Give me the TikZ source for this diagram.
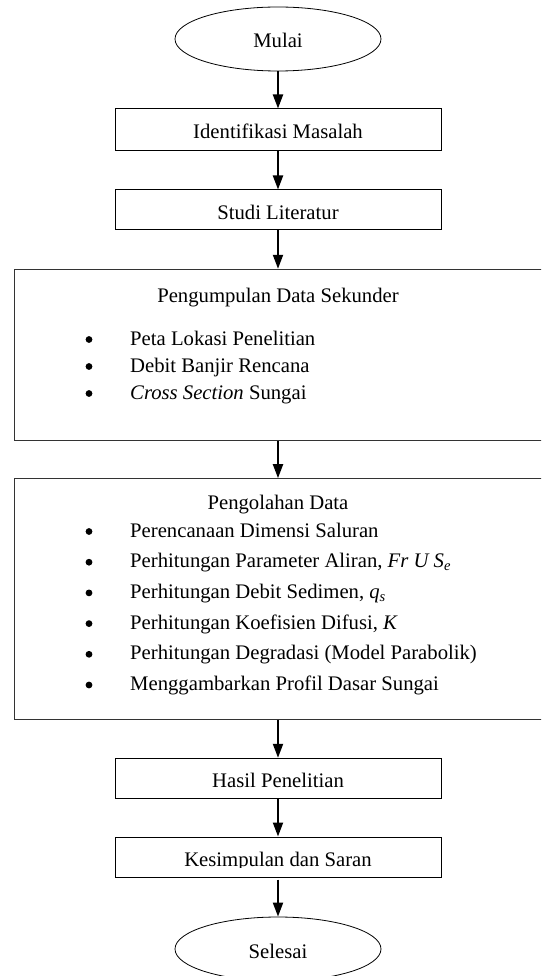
\documentclass[tikz,border=0pt]{standalone}
\usepackage{fontspec}
\setmainfont{Liberation Serif}
\usetikzlibrary{shapes.geometric,arrows.meta}
\begin{document}
\begin{tikzpicture}[x=1pt,y=-1pt,
  every node/.style={font=\fontsize{20.7}{24}\selectfont, inner sep=0pt},
  term/.style={ellipse, draw, line width=0.8pt, minimum width=206pt, minimum height=64pt, text height=18pt, text depth=0pt},
  smallbox/.style={rectangle, draw, line width=1pt, minimum width=326pt, text height=18pt, text depth=0pt},
  bigbox/.style={rectangle, draw=black!80, line width=1.1pt, minimum width=545.3pt},
  arr/.style={line width=2pt, -{Triangle[length=14pt,width=10pt]}},
  bul/.style={circle, fill=black, minimum size=6.8pt},
  itm/.style={anchor=base west},
  ttl/.style={anchor=base}]
\useasboundingbox (0,0) rectangle (541,976);
\clip (0,0) rectangle (541,976);
% terminals and small boxes
\node[term] (mulai) at (278,39) {Mulai};
\node[smallbox, minimum height=42pt] (ident) at (278,130) {Identifikasi Masalah};
\node[smallbox, minimum height=40pt] (studi) at (278,210) {Studi Literatur};
% big boxes
\node[bigbox, minimum height=171.4pt] (kumpul) at (287.35,355) {};
\node[bigbox, minimum height=240.6pt] (olah) at (287.35,599) {};
\node[smallbox, minimum height=40.4pt] (hasil) at (278,778.5) {Hasil Penelitian};
\node[smallbox, minimum height=40pt] (kes) at (278,857) {};
\begin{scope}
  \clip (115,837) rectangle (441,867.6);
  \node[ttl] (kestxt) at (278,866) {Kesimpulan dan Saran};
\end{scope}
\node[term] (selesai) at (278,949) {Selesai};
% content of Pengumpulan Data Sekunder
\node[ttl] (t1) at (278,302.5) {Pengumpulan Data Sekunder};
\node[bul] (b11) at (89,339.5) {};
\node[itm] (i11) at (130,345) {Peta Lokasi Penelitian};
\node[bul] (b12) at (89,366.5) {};
\node[itm] (i12) at (130,372) {Debit Banjir Rencana};
\node[bul] (b13) at (89,393.5) {};
\node[itm] (i13) at (130,399) {\textit{Cross Section} Sungai};
% content of Pengolahan Data
\node[ttl] (t2) at (278,509) {Pengolahan Data};
\node[bul] (b21) at (89,531.5) {};
\node[itm] (i21) at (130,537) {Perencanaan Dimensi Saluran};
\node[bul] (b22) at (89,562.2) {};
\node[itm] (i22) at (130,567.7) {Perhitungan Parameter Aliran, \textit{Fr U S}\textsubscript{\textit{e}}};
\node[bul] (b23) at (89,592.9) {};
\node[itm] (i23) at (130,598.4) {Perhitungan Debit Sedimen, \textit{q}\textsubscript{\textit{s}}};
\node[bul] (b24) at (89,623.6) {};
\node[itm] (i24) at (130,629.1) {Perhitungan Koefisien Difusi, \textit{K}};
\node[bul] (b25) at (89,654.3) {};
\node[itm] (i25) at (130,659.8) {Perhitungan Degradasi (Model Parabolik)};
\node[bul] (b26) at (89,685) {};
\node[itm] (i26) at (130,690.5) {Menggambarkan Profil Dasar Sungai};
% connectors
\draw[arr] (mulai.south) -- (ident.north);
\draw[arr] (ident.south) -- (studi.north);
\draw[arr] (studi.south) -- (studi.south |- kumpul.north);
\draw[arr] (kumpul.south -| studi.south) -- (olah.north -| studi.south);
\draw[arr] (olah.south -| hasil.north) -- (hasil.north);
\draw[arr] (hasil.south) -- (kes.north);
\draw[arr] ([yshift=-2pt]kes.south) -- (selesai.north);
\end{tikzpicture}
\end{document}
